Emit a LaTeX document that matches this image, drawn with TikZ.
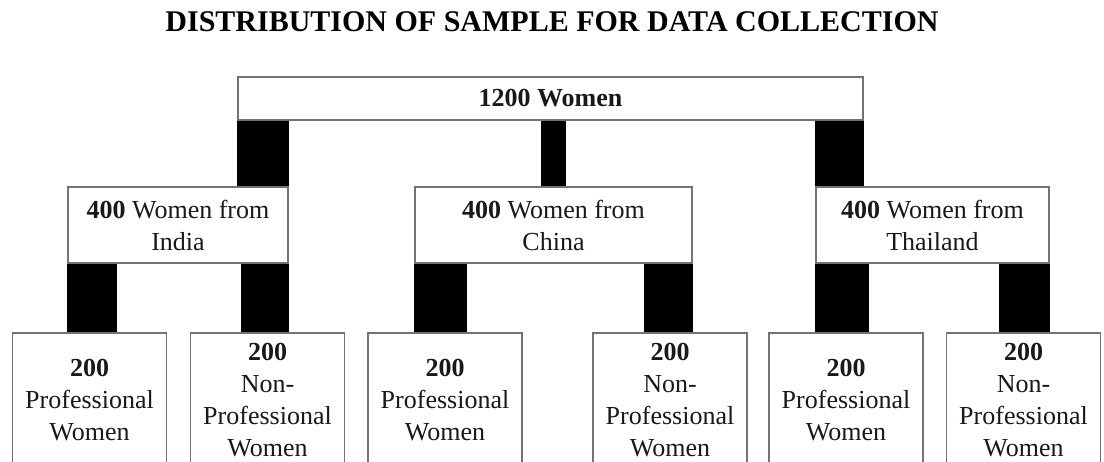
\documentclass[tikz,border=0pt]{standalone}
\usepackage{fontspec}
\setmainfont{Liberation Serif}
\usetikzlibrary{positioning,calc}

\begin{document}
\begin{tikzpicture}[x=1pt,y=1pt]
%
\useasboundingbox (0,0) rectangle (1104,462);
%
\definecolor{cbox}{rgb}{0.45,0.45,0.45}
\definecolor{ctext}{rgb}{0.1,0.1,0.1}
\tikzset{
  box/.style={draw=cbox,line width=1.2pt,fill=white,text=ctext,align=center,inner sep=0pt,font=\fontsize{26}{32}\selectfont},
  leaf/.style={box,minimum width=154pt,minimum height=134pt},
  bar/.style={fill=black}
}
%
\node[anchor=base,font=\fontsize{30}{36}\selectfont\bfseries] (title) at (552,430) {DISTRIBUTION OF SAMPLE FOR DATA COLLECTION};
%
\node[box,minimum width=625pt,minimum height=43pt] (all) at (550.5,363.5) {\textbf{1200 Women}};
%
\node[box,minimum width=220pt,minimum height=76pt] (india) at (178,237) {\textbf{400} Women from\\India};
\node[box,minimum width=277pt,minimum height=76pt] (china) at (553.5,237) {\textbf{400} Women from\\China};
\node[box,minimum width=233pt,minimum height=76pt] (thai) at (932.5,237) {\textbf{400} Women from\\Thailand};
%
\node[leaf] (indp) at (89.5,62) {\textbf{200}\\Professional\\Women};
\node[leaf] (indn) at (267.5,62) {\textbf{200}\\Non-\\Professional\\Women};
\node[leaf] (chip) at (445,62) {\textbf{200}\\Professional\\Women};
\node[leaf] (chin) at (670,62) {\textbf{200}\\Non-\\Professional\\Women};
\node[leaf] (thap) at (846,62) {\textbf{200}\\Professional\\Women};
\node[leaf] (than) at (1023.5,62) {\textbf{200}\\Non-\\Professional\\Women};
%
\fill[bar] (all.south west) rectangle (india.north east);
\fill[bar] ($(china.north)+(-12.5,0)$) rectangle ($(china.north |- all.south)+(12.5,0)$);
\fill[bar] (all.south east) rectangle (thai.north west);
%
\fill[bar] (india.south west) rectangle ($(india.south west |- indp.north)+(50,0)$);
\fill[bar] ($(india.south east)+(-48,0)$) rectangle (india.south east |- indn.north);
\fill[bar] (china.south west) rectangle ($(china.south west |- chip.north)+(53,0)$);
\fill[bar] ($(china.south east)+(-49,0)$) rectangle (china.south east |- chin.north);
\fill[bar] (thai.south west) rectangle ($(thai.south west |- thap.north)+(54,0)$);
\fill[bar] ($(thai.south east)+(-51,0)$) rectangle (thai.south east |- than.north);
%
\end{tikzpicture}
\end{document}
